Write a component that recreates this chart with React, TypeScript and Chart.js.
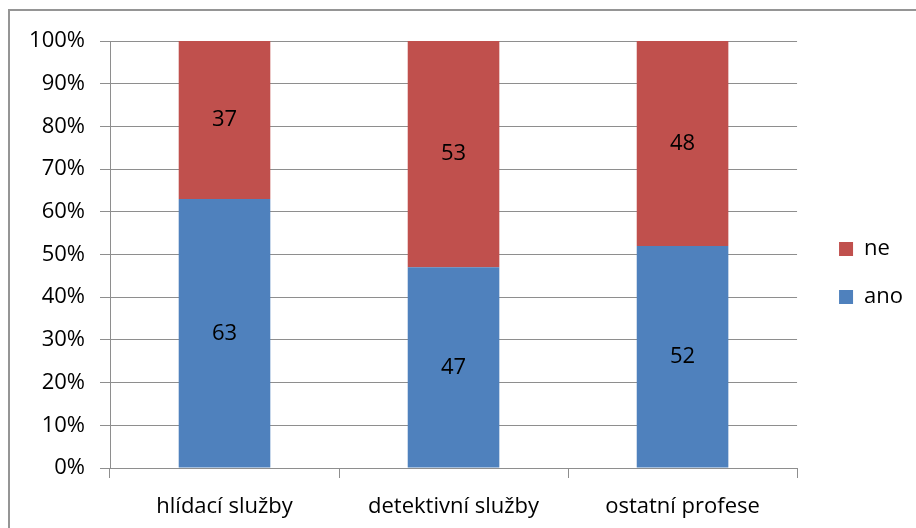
import React, { useEffect, useRef } from 'react';
import { Chart, registerables } from 'chart.js';

Chart.register(...registerables);

const categories = ['hlídací služby', 'detektivní služby', 'ostatní profese'];
const anoValues = [63, 47, 52];
const neValues = [37, 53, 48];
const seriesNames = ['ano', 'ne'];
const seriesColors = ['#4F81BD', '#C0504D'];

const FONT = '"Open Sans", Lato, sans-serif';
const FONT_SIZE = 22;
const GRID = '#8e8e8e';

const valueLabels = {
  id: 'valueLabels',
  afterDatasetsDraw(chart: any) {
    const ctx = chart.ctx;
    ctx.save();
    ctx.font = `${FONT_SIZE}px ${FONT}`;
    ctx.fillStyle = '#000';
    ctx.textAlign = 'center';
    ctx.textBaseline = 'middle';
    chart.data.datasets.forEach((ds: any, i: number) => {
      const meta = chart.getDatasetMeta(i);
      meta.data.forEach((el: any, j: number) => {
        const { x, y, base } = el.getProps(['x', 'y', 'base'], true);
        ctx.fillText(String(ds.data[j]), x, (y + base) / 2);
      });
    });
    ctx.restore();
  },
};

export default function App() {
  const canvasRef = useRef<HTMLCanvasElement | null>(null);

  useEffect(() => {
    if (!canvasRef.current) return;
    const font = { family: FONT, size: FONT_SIZE };
    const chart = new Chart(canvasRef.current, {
      type: 'bar',
      data: {
        labels: categories,
        datasets: [
          {
            label: seriesNames[0],
            data: anoValues,
            backgroundColor: seriesColors[0],
            barPercentage: 0.4,
            categoryPercentage: 1.0,
          },
          {
            label: seriesNames[1],
            data: neValues,
            backgroundColor: seriesColors[1],
            barPercentage: 0.4,
            categoryPercentage: 1.0,
          },
        ],
      },
      options: {
        animation: false,
        responsive: true,
        maintainAspectRatio: false,
        layout: { padding: { top: 41, right: 3, bottom: 0, left: 0 } },
        plugins: {
          legend: {
            position: 'right',
            fullSize: false,
            reverse: true,
            title: {
              display: true,
              text: ' ',
              font: { family: FONT, size: 10 },
              padding: { top: 25, bottom: 0 },
            },
            labels: {
              boxWidth: 14,
              boxHeight: 14,
              padding: 26,
              color: '#000',
              font,
            },
          },
          tooltip: { enabled: false },
        },
        scales: {
          x: {
            stacked: true,
            grid: {
              offset: true,
              drawOnChartArea: false,
              drawTicks: true,
              tickLength: 10,
              color: GRID,
            },
            border: { color: GRID },
            ticks: { color: '#000', font, padding: 16 },
            afterFit: (s: any) => {
              s.height = 60;
            },
          },
          y: {
            stacked: true,
            min: 0,
            max: 100,
            ticks: {
              stepSize: 10,
              callback: (v: any) => v + '%',
              color: '#000',
              font,
              padding: 15,
            },
            grid: { color: GRID, tickLength: 10 },
            border: { color: GRID },
            afterFit: (s: any) => {
              s.width = 110;
            },
          },
          y2: {
            position: 'right',
            display: true,
            grid: { display: false },
            ticks: { display: false },
            border: { display: false },
            afterFit: (s: any) => {
              s.width = 16;
            },
          },
        },
      } as any,
      plugins: [valueLabels],
    });
    return () => chart.destroy();
  }, []);

  return (
    <div
      style={{
        position: 'fixed',
        left: 0,
        top: 0,
        width: 916,
        height: 528,
        overflow: 'hidden',
        background: '#fff',
      }}
    >
      <div
        style={{
          position: 'absolute',
          left: 8,
          top: 9,
          width: 1000,
          height: 1000,
          border: '2px solid #959595',
          boxSizing: 'border-box',
        }}
      />
      <div style={{ position: 'absolute', left: 0, top: 0, width: 916, height: 528 }}>
        <canvas ref={canvasRef} />
      </div>
    </div>
  );
}
